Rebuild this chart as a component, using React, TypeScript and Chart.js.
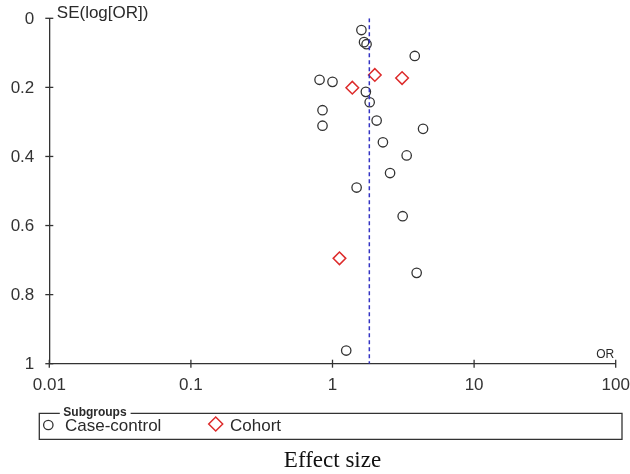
import { useEffect, useRef } from 'react';
import { Chart, registerables } from 'chart.js';

Chart.register(...registerables);

const caseControlOR = [1.6, 1.67, 1.74, 3.81, 0.81, 1.0, 1.72, 1.83, 0.85, 0.85, 2.05, 4.36, 2.27, 3.34, 2.55, 1.48, 3.13, 3.93, 1.25];
const caseControlSE = [0.034, 0.069, 0.075, 0.109, 0.178, 0.184, 0.213, 0.243, 0.266, 0.311, 0.296, 0.32, 0.359, 0.397, 0.448, 0.49, 0.573, 0.737, 0.962];
const cohortOR = [1.99, 3.1, 1.38, 1.12];
const cohortSE = [0.164, 0.173, 0.201, 0.695];
const pooledOR = 1.82;
const seLimits = [0, 1];
const xTickValues = [0.01, 0.1, 1, 10, 100];
const xTickLabels = ['0.01', '0.1', '1', '10', '100'];
const yTickValues = [0, 0.2, 0.4, 0.6, 0.8, 1];
const yTickLabels = ['0', '0.2', '0.4', '0.6', '0.8', '1'];
const seriesNames = ['Case-control', 'Cohort'];
const legendTitle = 'Subgroups';
const yAxisTitle = 'SE(log[OR])';
const xAxisUnit = 'OR';
const xAxisTitle = 'Effect size';

const AXIS = '#333333';
const TEXT = '#2a2a2a';
const CIRCLE = '#333333';
const RED = '#dd2b2b';
const BLUE = '#3434c4';
const SANS = '"Liberation Sans", Arial, sans-serif';
const SERIF = '"Liberation Serif", "Times New Roman", serif';

const decor = {
  id: 'decor',
  afterDraw(chart: any) {
    const { ctx, chartArea, scales } = chart;
    const xs = scales.x;
    const ys = scales.y;
    ctx.save();
    ctx.strokeStyle = AXIS;
    ctx.lineWidth = 1.3;
    // crossing tick marks
    yTickValues.forEach((v) => {
      const py = ys.getPixelForValue(v);
      ctx.beginPath();
      ctx.moveTo(chartArea.left - 4, py);
      ctx.lineTo(chartArea.left + 4, py);
      ctx.stroke();
    });
    xTickValues.forEach((v) => {
      const px = xs.getPixelForValue(v);
      ctx.beginPath();
      ctx.moveTo(px, chartArea.bottom - 4);
      ctx.lineTo(px, chartArea.bottom + 4);
      ctx.stroke();
    });

    // y axis title
    ctx.fillStyle = TEXT;
    ctx.font = `17px ${SANS}`;
    ctx.textAlign = 'left';
    ctx.textBaseline = 'alphabetic';
    ctx.fillText(yAxisTitle, chartArea.left + 7.5, 18);

    // OR label
    ctx.font = `12px ${SANS}`;
    ctx.textAlign = 'right';
    ctx.fillText(xAxisUnit, chartArea.right - 1.5, chartArea.bottom - 6);

    // legend box
    const bl = 39.3, br = 622, bt = 413.3, bb = 439.3;
    ctx.font = `bold 12px ${SANS}`;
    ctx.textAlign = 'left';
    const tx = 63.3;
    const tw = ctx.measureText(legendTitle).width;
    ctx.fillText(legendTitle, tx, 415.5);
    ctx.beginPath();
    ctx.moveTo(tx - 3.5, bt);
    ctx.lineTo(bl, bt);
    ctx.lineTo(bl, bb);
    ctx.lineTo(br, bb);
    ctx.lineTo(br, bt);
    ctx.lineTo(tx + tw + 4, bt);
    ctx.stroke();

    // legend entries
    ctx.strokeStyle = CIRCLE;
    ctx.lineWidth = 1.3;
    ctx.beginPath();
    ctx.arc(48.3, 425, 4.7, 0, Math.PI * 2);
    ctx.stroke();
    ctx.strokeStyle = RED;
    ctx.lineWidth = 1.5;
    ctx.beginPath();
    const dx = 215.7, dy = 424, dr = 7;
    ctx.moveTo(dx - dr, dy);
    ctx.lineTo(dx, dy - dr);
    ctx.lineTo(dx + dr, dy);
    ctx.lineTo(dx, dy + dr);
    ctx.closePath();
    ctx.stroke();
    ctx.fillStyle = TEXT;
    ctx.font = `17px ${SANS}`;
    ctx.fillText(seriesNames[0], 65, 431);
    ctx.fillText(seriesNames[1], 230, 431);

    // x axis title
    ctx.font = `23px ${SERIF}`;
    ctx.textAlign = 'center';
    ctx.fillStyle = '#111';
    ctx.fillText(xAxisTitle, (chartArea.left + chartArea.right) / 2, 466.7);
    ctx.restore();
  },
};

export default function App() {
  const ref = useRef<HTMLCanvasElement>(null);
  useEffect(() => {
    if (!ref.current) return;
    const chart = new Chart(ref.current, {
      type: 'scatter',
      data: {
        datasets: [
          {
            type: 'line',
            label: 'Pooled',
            data: seLimits.map((s) => ({ x: pooledOR, y: s })),
            borderColor: BLUE,
            borderWidth: 1.5,
            borderDash: [4, 3],
            pointRadius: 0,
            fill: false,
            order: 0,
          } as any,
          {
            label: seriesNames[0],
            data: caseControlOR.map((v, i) => ({ x: v, y: caseControlSE[i] })),
            pointStyle: 'circle',
            pointRadius: 4.7,
            borderColor: CIRCLE,
            backgroundColor: 'rgba(0,0,0,0)',
            borderWidth: 1.3,
            order: 1,
          },
          {
            label: seriesNames[1],
            data: cohortOR.map((v, i) => ({ x: v, y: cohortSE[i] })),
            pointStyle: 'rectRot',
            pointRadius: 6.3,
            borderColor: RED,
            backgroundColor: 'rgba(0,0,0,0)',
            borderWidth: 1.5,
            order: 2,
          },
        ],
      },
      options: {
        responsive: false,
        animation: false,
        layout: { padding: { left: 0, top: 18.3, right: 14.3, bottom: 0 } },
        plugins: { legend: { display: false }, tooltip: { enabled: false } },
        scales: {
          x: {
            type: 'logarithmic',
            min: 0.01,
            max: 100,
            afterBuildTicks: (s: any) => {
              s.ticks = xTickValues.map((v) => ({ value: v }));
            },
            afterFit: (s: any) => {
              s.height = 110.3;
              s.paddingLeft = 0;
              s.paddingRight = 0;
              s.paddingTop = 0;
              s.paddingBottom = 0;
            },
            ticks: {
              callback: (v: any) => {
                const i = xTickValues.indexOf(Number(v));
                return i >= 0 ? xTickLabels[i] : '';
              },
              font: { size: 17, family: SANS },
              color: AXIS,
              padding: 11,
              maxRotation: 0,
              autoSkip: false,
            },
            grid: { display: false, drawTicks: false },
            border: { display: true, color: AXIS, width: 1.3 },
          },
          y: {
            type: 'linear',
            reverse: true,
            min: 0,
            max: 1,
            afterBuildTicks: (s: any) => {
              s.ticks = yTickValues.map((v) => ({ value: v }));
            },
            afterFit: (s: any) => {
              s.width = 49.3;
              s.paddingLeft = 0;
              s.paddingRight = 0;
              s.paddingTop = 0;
              s.paddingBottom = 0;
            },
            ticks: {
              callback: (v: any) => {
                const i = yTickValues.findIndex((t) => Math.abs(t - Number(v)) < 1e-9);
                return i >= 0 ? yTickLabels[i] : '';
              },
              font: { size: 17, family: SANS },
              color: AXIS,
              padding: 15,
              labelOffset: 1,
              autoSkip: false,
            },
            grid: { display: false, drawTicks: false },
            border: { display: true, color: AXIS, width: 1.3 },
          },
        },
      },
      plugins: [decor],
    } as any);
    return () => chart.destroy();
  }, []);
  return (
    <canvas
      ref={ref}
      width={630}
      height={474}
      style={{ position: 'absolute', left: 0, top: 0, display: 'block', background: '#fff' }}
    />
  );
}
